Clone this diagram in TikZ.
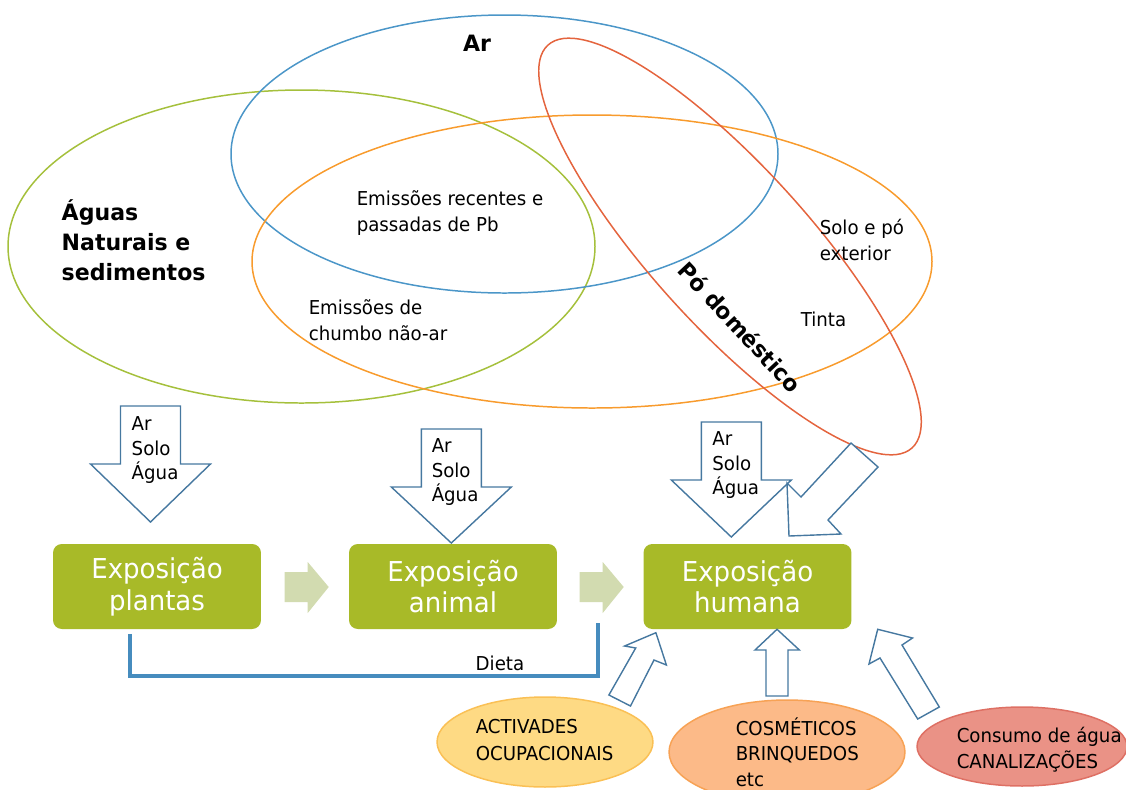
\documentclass[tikz,border=0pt]{standalone}
\usepackage{fontspec}
\setmainfont{DejaVu Sans}[FakeStretch=0.95,BoldFeatures={FakeStretch=0.98}]
\usepackage{xcolor}
\usepackage{tikz}
\usetikzlibrary{calc,positioning,shapes.geometric}
\definecolor{boxgreen}{RGB}{168,186,40}
\definecolor{flowgreen}{RGB}{210,219,176}
\definecolor{arrowblue}{RGB}{70,120,160}
\definecolor{dietblue}{RGB}{70,140,190}
\definecolor{setgreen}{RGB}{165,192,60}
\definecolor{setblue}{RGB}{75,150,200}
\definecolor{setorange}{RGB}{248,155,45}
\definecolor{setred}{RGB}{228,100,62}
\definecolor{ocupfill}{RGB}{254,218,132}
\definecolor{ocupedge}{RGB}{250,192,85}
\definecolor{cosmfill}{RGB}{252,186,136}
\definecolor{cosmedge}{RGB}{247,162,85}
\definecolor{consfill}{RGB}{234,146,134}
\definecolor{consedge}{RGB}{222,112,100}

\begin{document}
\begin{tikzpicture}[x=0.02cm,y=-0.02cm,line width=0.85pt,
  expbox/.style={fill=boxgreen,rounded corners=5pt,minimum width=4.16cm,minimum height=1.7cm,align=center,text=white,font=\fontsize{15.6}{18.1}\selectfont,inner sep=0},
  blockarrow/.style={draw=arrowblue,fill=white,line width=0.8pt},
  txt/.style={font=\fontsize{10.9}{14.7}\selectfont,inner sep=0,align=left},
  bigtxt/.style={font=\fontsize{12.8}{17}\selectfont\bfseries,inner sep=0,align=left},
  source/.style={ellipse,inner sep=0}]
\useasboundingbox (0,0) rectangle (1126,789);

% conjuntos
\draw[setgreen] (301.5,246.5) ellipse [x radius=293.5, y radius=156.5];
\draw[setblue] (504.5,154) ellipse [x radius=273.5, y radius=139];
\draw[setorange] (592,261.5) ellipse [x radius=340, y radius=146.5];
\draw[setred,rotate around={-47.9:(730,246.5)}] (730,246.5) ellipse [x radius=271.5, y radius=79];

\node[bigtxt] (ar) at (477,43) {Ar};
\node[bigtxt,anchor=west] (aguas) at (61,240) {Águas\\Naturais e\\sedimentos};
\node[bigtxt,rotate=-47] (podom) at (740,327) {Pó doméstico};
\node[txt,anchor=west] (recentes) at (356,213) {Emissões recentes e\\passadas de Pb};
\node[txt,anchor=west] (naoar) at (308,320.5) {Emissões de\\chumbo não-ar};
\node[txt,anchor=west] (exterior) at (819,240) {Solo e pó\\exterior};
\node[txt,anchor=west] (tinta) at (800,319) {Tinta};

% exposicao
\node[expbox] (plantas) at (157,586.5) {Exposição\\plantas};
\node[expbox] (animal) at (453,586.5) {Exposição\\animal};
\node[expbox] (humana) at (747.5,586.5) {Exposição\\humana};
\fill[flowgreen] ($(plantas.east)+(23,-14.5)$) -- ++(23,0) -- ++(0,-10) -- ++(21,25) -- ++(-21,26) -- ++(0,-11) -- ++(-23,0) -- cycle;
\fill[flowgreen] ($(animal.east)+(22,-14.5)$) -- ++(23,0) -- ++(0,-10) -- ++(21,25) -- ++(-21,26) -- ++(0,-11) -- ++(-23,0) -- cycle;

% ar solo agua
\draw[blockarrow] (120.5,406) -- (180.5,406) -- (180.5,464) -- (210.5,464) -- (150.5,522) -- (90.5,464) -- (120.5,464) -- cycle;
\draw[blockarrow] (421.3,429) -- (481.3,429) -- (481.3,487) -- (511.3,487) -- (451.3,543) -- (391.3,487) -- (421.3,487) -- cycle;
\draw[blockarrow] (701.3,422) -- (761.3,422) -- (761.3,480) -- (791.3,480) -- (731.3,537) -- (671.3,480) -- (701.3,480) -- cycle;
\node[txt,anchor=west,font=\fontsize{10.9}{14.2}\selectfont] (meioA) at (131,450) {Ar\\Solo\\Água};
\node[txt,anchor=west,font=\fontsize{10.9}{14.2}\selectfont] (meioB) at (431,472) {Ar\\Solo\\Água};
\node[txt,anchor=west,font=\fontsize{10.9}{14.2}\selectfont] (meioC) at (711.6,465) {Ar\\Solo\\Água};
\draw[blockarrow] (789,536) -- (787,483) -- (801,497) -- (851,443) -- (878,467) -- (828,520) -- (841,534) -- cycle;

% dieta
\draw[dietblue,line width=2.3pt] ($(plantas.south)+(-27,4)$) -- ++(0,42) -| ($(animal.south east)+(40.7,-7)$);
\node[txt] (dieta) at (500,663) {Dieta};

% fontes
\node[source,fill=ocupfill,draw=ocupedge,minimum width=4.32cm,minimum height=1.8cm] (ocup) at (545,742) {};
\node[source,fill=cosmfill,draw=cosmedge,minimum width=4.72cm,minimum height=2.08cm] (cosm) at (787,752) {};
\node[source,fill=consfill,draw=consedge,minimum width=4.2cm,minimum height=1.58cm] (cons) at (1022,746.5) {};
\node[txt,anchor=west,font=\fontsize{10.9}{14.9}\selectfont] (ocuptxt) at (475,740) {ACTIVADES\\OCUPACIONAIS};
\node[txt,anchor=west,font=\fontsize{10.9}{14.5}\selectfont] (cosmtxt) at (735,752) {COSMÉTICOS\\BRINQUEDOS\\etc};
\node[txt,anchor=west,font=\fontsize{10.9}{14.5}\selectfont] (constxt) at (956,749.5) {Consumo de água\\CANALIZAÇÕES};
\draw[blockarrow] (655.9,632.7) -- (666.4,665) -- (654,660) -- (630.5,706) -- (608.9,695) -- (635.7,648) -- (624.6,646) -- cycle;
\draw[blockarrow] (777,629.3) -- (799.4,650) -- (788,650) -- (788,696) -- (766,696) -- (766,650) -- (755,650) -- cycle;
\draw[blockarrow] (877.7,629.3) -- (912.5,638) -- (902,645) -- (939.3,707) -- (917.7,719) -- (880,658) -- (869,664) -- cycle;
\end{tikzpicture}
\end{document}
